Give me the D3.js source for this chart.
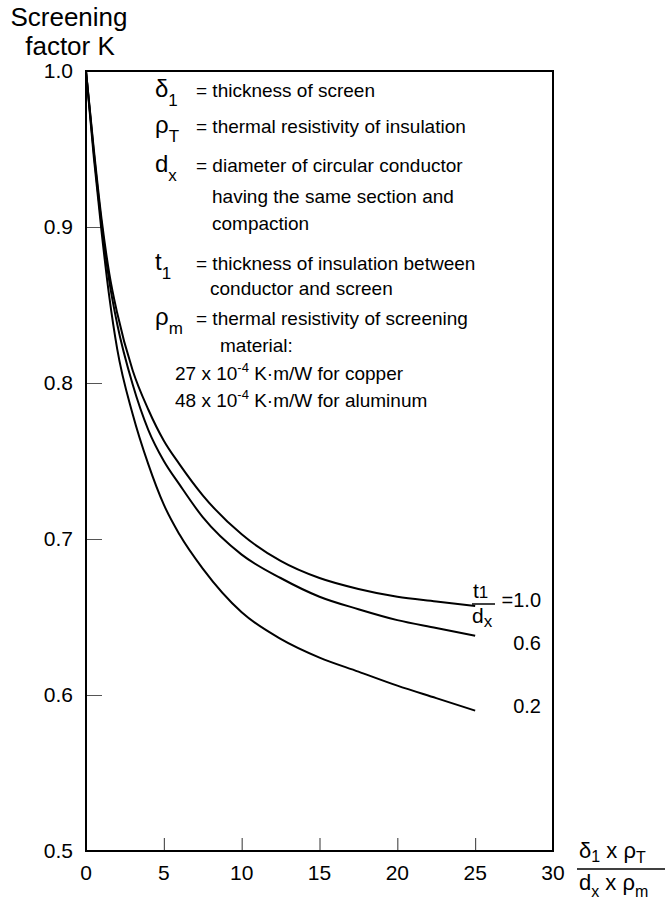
<!DOCTYPE html>
<html>
<head>
<meta charset="utf-8">
<script src="https://cdn.jsdelivr.net/npm/d3@7"></script>
<style>
  body { margin: 0; background: #fff; }
  svg { font-family: "Liberation Sans", Arial, Helvetica, sans-serif; }
</style>
</head>
<body>
<svg width="670" height="904"></svg>
<script>
// data
var xTicks = [0, 5, 10, 15, 20, 25, 30];
var yTicks = [0.5, 0.6, 0.7, 0.8, 0.9, 1.0];
var xValues = [0, 0.5, 1, 1.5, 2, 3, 4, 5, 6, 7.5, 10, 12.5, 15, 17.5, 20, 22.5, 25];
var k10 = [1.0, 0.95, 0.905, 0.87, 0.845, 0.808, 0.783, 0.763, 0.748, 0.728, 0.703, 0.686, 0.675, 0.668, 0.663, 0.66, 0.657];
var k06 = [1.0, 0.948, 0.902, 0.865, 0.838, 0.799, 0.77, 0.75, 0.735, 0.714, 0.69, 0.675, 0.663, 0.655, 0.648, 0.643, 0.638];
var k02 = [1.0, 0.945, 0.897, 0.855, 0.822, 0.78, 0.748, 0.722, 0.703, 0.681, 0.653, 0.636, 0.624, 0.615, 0.606, 0.598, 0.59];
var ratioLabels = ["=1.0", "0.6", "0.2"];

var svg = d3.select("svg");

var x = d3.scaleLinear().domain([0, 30]).range([86, 553]);
var y = d3.scaleLinear().domain([0.5, 1.0]).range([851, 71]);

// ticks (inside the frame)
svg.append("g")
  .attr("transform", "translate(0," + y(0.5) + ")")
  .call(d3.axisBottom(x).tickValues(xTicks.slice(1, -1)).tickSize(-13).tickFormat(""))
  .call(function(g) { g.select(".domain").remove(); })
  .selectAll("line").attr("stroke", "#333").attr("stroke-width", 1);

svg.append("g")
  .attr("transform", "translate(" + x(0) + ",0)")
  .call(d3.axisLeft(y).tickValues(yTicks.slice(1, -1)).tickSize(-16).tickFormat(""))
  .call(function(g) { g.select(".domain").remove(); })
  .selectAll("line").attr("stroke", "#555").attr("stroke-width", 1);

// tick labels
svg.selectAll(".xl").data(xTicks).enter().append("text")
  .attr("x", function(d) { return x(d); })
  .attr("y", 880)
  .attr("text-anchor", "middle")
  .attr("font-size", 21)
  .text(function(d) { return d; });

svg.selectAll(".yl").data(yTicks).enter().append("text")
  .attr("x", 73)
  .attr("y", function(d) { return y(d) + 7; })
  .attr("text-anchor", "end")
  .attr("font-size", 21)
  .text(function(d) { return d.toFixed(1); });

// frame
svg.append("rect")
  .attr("x", x(0)).attr("y", y(1.0))
  .attr("width", x(30) - x(0)).attr("height", y(0.5) - y(1.0))
  .attr("fill", "none").attr("stroke", "#000").attr("stroke-width", 2);

// curves
var line = d3.line()
  .x(function(d) { return x(d[0]); })
  .y(function(d) { return y(d[1]); })
  .curve(d3.curveMonotoneX);

[k10, k06, k02].forEach(function(s) {
  svg.append("path")
    .datum(xValues.map(function(v, i) { return [v, s[i]]; }))
    .attr("d", line)
    .attr("fill", "none")
    .attr("stroke", "#000")
    .attr("stroke-width", 2);
});

// y axis title
svg.append("text").attr("x", 69).attr("y", 26).attr("text-anchor", "middle")
  .attr("font-size", 26).text("Screening");
svg.append("text").attr("x", 70).attr("y", 55).attr("text-anchor", "middle")
  .attr("font-size", 26).text("factor K");

// x axis title as a fraction
var xt = svg.append("g");
var num = xt.append("text").attr("x", 579).attr("y", 858).attr("font-size", 22);
num.append("tspan").text("δ");
num.append("tspan").attr("font-size", 16).attr("dy", 4).text("1");
num.append("tspan").attr("dy", -4).text(" x ρ");
num.append("tspan").attr("font-size", 16).attr("dy", 5).text("T");
xt.append("line").attr("x1", 577).attr("x2", 665).attr("y1", 869).attr("y2", 869)
  .attr("stroke", "#000").attr("stroke-width", 1.5);
var den = xt.append("text").attr("x", 579).attr("y", 890).attr("font-size", 22);
den.append("tspan").text("d");
den.append("tspan").attr("font-size", 16).attr("dy", 7).text("x");
den.append("tspan").attr("dy", -7).text(" x ρ");
den.append("tspan").attr("font-size", 16).attr("dy", 7).text("m");

// curve labels
var cl = svg.append("g");
var tt = cl.append("text").attr("x", 473).attr("y", 598).attr("font-size", 21);
tt.append("tspan").text("t");
tt.append("tspan").attr("font-size", 17).text("1");
cl.append("line").attr("x1", 472).attr("x2", 495).attr("y1", 604).attr("y2", 604)
  .attr("stroke", "#000").attr("stroke-width", 1.5);
var td = cl.append("text").attr("x", 472).attr("y", 623).attr("font-size", 21);
td.append("tspan").text("d");
td.append("tspan").attr("font-size", 17).attr("dy", 4).text("x");

cl.selectAll(".rl").data(ratioLabels).enter().append("text")
  .attr("x", 541)
  .attr("y", function(d, i) { return [607, 650, 713][i]; })
  .attr("text-anchor", "end")
  .attr("font-size", 20)
  .text(function(d) { return d; });

// legend block
var legendSymbols = [["δ", "1"], ["ρ", "T"], ["d", "x"], ["t", "1"], ["ρ", "m"]];
var legendText = [
  ["= thickness of screen"],
  ["= thermal resistivity of insulation"],
  ["= diameter of circular conductor", "having the same section and", "compaction"],
  ["= thickness of insulation between", "conductor and screen"],
  ["= thermal resistivity of screening", "material:"]
];
var symY = [97, 133, 172, 270, 325];
var contY = [[], [], [203, 230], [295], [352]];
var contX = [0, 0, 212, 210, 220];

legendSymbols.forEach(function(s, i) {
  var t = svg.append("text").attr("x", 155).attr("y", symY[i]).attr("font-size", 24);
  t.append("tspan").text(s[0]);
  t.append("tspan").attr("font-size", 17).attr("dy", 9).text(s[1]);
  svg.append("text").attr("x", 196).attr("y", symY[i]).attr("font-size", 19)
    .text(legendText[i][0]);
  legendText[i].slice(1).forEach(function(l, j) {
    svg.append("text").attr("x", contX[i]).attr("y", contY[i][j]).attr("font-size", 19).text(l);
  });
});

var materials = [["27", "copper"], ["48", "aluminum"]];
materials.forEach(function(m, i) {
  var t = svg.append("text").attr("x", 175).attr("y", 380 + i * 27).attr("font-size", 19);
  t.append("tspan").text(m[0] + " x 10");
  t.append("tspan").attr("font-size", 13).attr("dy", -8).text("-4");
  t.append("tspan").attr("dy", 8).text(" K·m/W for " + m[1]);
});
</script>
</body>
</html>
